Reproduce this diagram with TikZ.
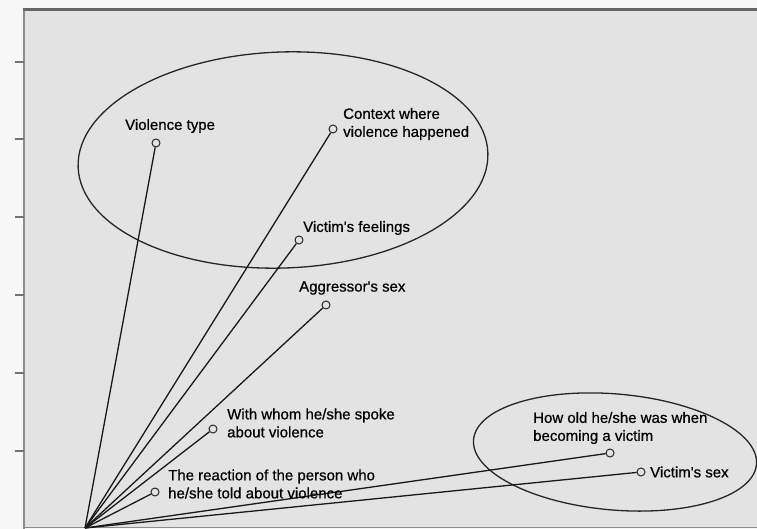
\documentclass[tikz,border=0pt]{standalone}
\usepackage{fontspec}
\setmainfont{Liberation Sans}[Ligatures=TeXOff,FakeBold=0.6]
\begin{document}
\begin{tikzpicture}[x=1pt,y=-1pt,
  pt/.style={circle,draw=black!85,fill=plotbg,line width=1pt,minimum size=8pt,inner sep=0pt},
  lbl/.style={anchor=west,inner sep=0pt,text=black,font=\fontsize{15}{18}\selectfont,align=left},
  ray/.style={draw=black!90,line width=1.3pt},
  ring/.style={draw=black!85,line width=1.3pt},
  axis/.style={draw=black!45,line width=1.6pt},
  tick/.style={draw=black!55,line width=1.6pt}]
\definecolor{plotbg}{HTML}{E3E3E3}
\useasboundingbox (0,0) rectangle (757,529);
\fill[white!97!black] (0,0) rectangle (757,529);
\fill[plotbg] (24,10) rectangle (757,527);
% axes
\draw[axis] (24,10) -- (24,529);
\draw[draw=black!60,line width=3pt] (23,9.5) -- (757,9.5);
\draw[axis] (24,527.5) -- (757,527.5);
\foreach \yy in {62,139,217,295,373,451}{\draw[tick] (15,\yy) -- (24,\yy);}
% ellipses
\draw[ring,rotate around={2:(283,160)}] (283,160) ellipse [x radius=205, y radius=108];
\draw[ring,rotate around={-5:(615,452)}] (615,452) ellipse [x radius=142, y radius=58];
% origin
\coordinate (O) at (85,528);
% points
\node[pt] (vt) at (156,143) {};
\node[pt] (ctx) at (333,129) {};
\node[pt] (feel) at (299,240) {};
\node[pt] (agg) at (326,305) {};
\node[pt] (whom) at (213,429) {};
\node[pt] (react) at (155,492) {};
\node[pt] (age) at (610,453) {};
\node[pt] (sex) at (641,472) {};
% rays
\foreach \p in {vt,ctx,feel,agg,whom,react,age,sex}{\draw[ray] (O) -- (\p);}
% labels
\node[lbl] (lvt) at (125,126) {Violence type};
\node[lbl] (lctx) at (343,124) {Context where\\violence happened};
\node[lbl] (lfeel) at (303,228) {Victim's feelings};
\node[lbl] (lagg) at (299,288) {Aggressor's sex};
\node[lbl] (lwhom) at (227,423) {With whom he/she spoke\\about violence};
\node[lbl] (lreact) at (168,484) {The reaction of the person who\\he/she told about violence};
\node[lbl] (lage) at (533,428) {How old he/she was when\\becoming a victim};
\node[lbl] (lsex) at (650,472) {Victim's sex};
\end{tikzpicture}
\end{document}
